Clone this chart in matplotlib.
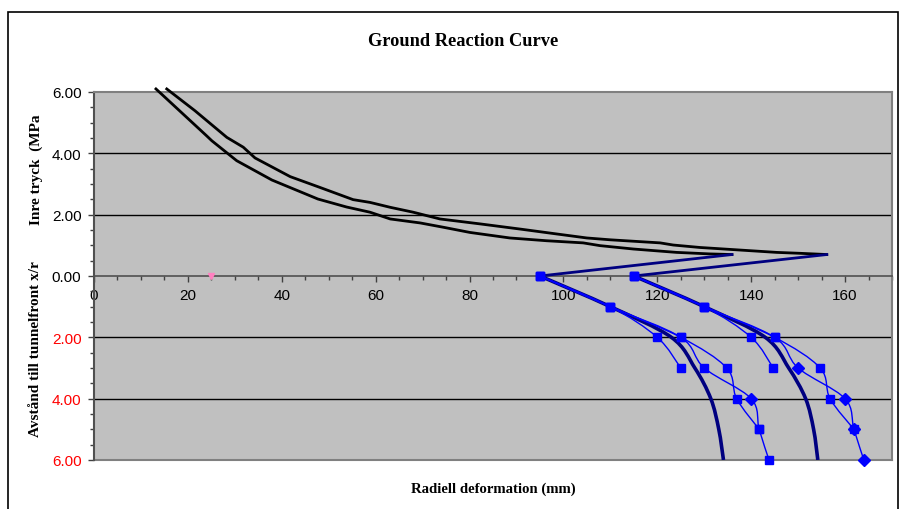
import matplotlib
matplotlib.use('Agg')
import matplotlib.pyplot as plt
from matplotlib.path import Path
from matplotlib.patches import PathPatch, Rectangle
from matplotlib.ticker import MultipleLocator

# ---------------- data ----------------
grc1_x = [13.2, 24.0, 25.1, 30.4, 37.9, 47.7, 53.8, 58.8, 63.1, 69.5, 74.4, 80.1,
          88.6, 96.4, 104.2, 107.8, 114.9, 124.1, 131.2, 135.9]
grc1_y = [6.10, 4.57, 4.41, 3.76, 3.13, 2.51, 2.25, 2.08, 1.86, 1.73, 1.59, 1.42,
          1.24, 1.15, 1.08, 0.99, 0.88, 0.77, 0.72, 0.70]

grc2_x = [15.5, 21.5, 28.3, 31.8, 34.3, 41.8, 48.1, 55.2, 58.8, 63.1, 68.0, 73.7,
          82.2, 90.8, 98.6, 105.0, 110.0, 120.6, 123.4, 129.1, 145.4, 150.4, 156.1]
grc2_y = [6.10, 5.39, 4.52, 4.20, 3.85, 3.24, 2.89, 2.49, 2.40, 2.24, 2.08, 1.86,
          1.70, 1.53, 1.37, 1.24, 1.18, 1.08, 1.01, 0.93, 0.77, 0.74, 0.70]

link1_x = [135.9, 95.0]
link1_y = [0.70, 0.0]
link2_x = [156.1, 115.0]
link2_y = [0.70, 0.0]

ldp1_x = [95.0, 110.0, 123.0, 128.0, 131.4, 133.1, 134.1]
ldp1_y = [0, -1, -2, -3, -4, -5, -6]
ldp2_x = [115.0, 130.0, 143.0, 148.0, 151.6, 153.3, 154.2]
ldp2_y = [0, -1, -2, -3, -4, -5, -6]

sA_x = [95, 110, 120, 125]
sA_y = [0, -1, -2, -3]
sA_m = ['s', 's', 's', 's']

sB_x = [95, 110, 125, 130, 140, 141.7, 143.8]
sB_y = [0, -1, -2, -3, -4, -5, -6]
sB_m = ['s', 's', 's', 's', 'D', 's', 's']

sC_x = [95, 110, 125, 134.8, 136.9, 141.7]
sC_y = [0, -1, -2, -3, -4, -5]
sC_m = ['s', 's', 's', 's', 's', 's']

sD_x = [115, 130, 140, 144.7]
sD_y = [0, -1, -2, -3]
sD_m = ['s', 's', 's', 's']

sE_x = [115, 130, 145, 150, 160, 161.9, 164]
sE_y = [0, -1, -2, -3, -4, -5, -6]
sE_m = ['s', 's', 's', 'D', 'D', 'D', 'D']

sF_x = [115, 130, 145, 154.7, 156.8, 161.9]
sF_y = [0, -1, -2, -3, -4, -5]
sF_m = ['s', 's', 's', 's', 's', 's']

pink_x = [25]
pink_y = [0]

yticks = [-6, -4, -2, 0, 2, 4, 6]
xticks = [0, 20, 40, 60, 80, 100, 120, 140, 160]
grid_y = [-4, -2, 2, 4]

title = "Ground Reaction Curve"
xlabel = "Radiell deformation (mm)"
ylabel_top = "Inre tryck  (MPa"
ylabel_bottom = "Avstånd till tunnelfront x/r"

# ---------------- helpers ----------------
def smooth_path(xs, ys):
    pts = list(zip(xs, ys))
    n = len(pts)
    verts = [pts[0]]
    codes = [Path.MOVETO]
    for i in range(n - 1):
        p0 = pts[i - 1] if i > 0 else pts[i]
        p1 = pts[i]
        p2 = pts[i + 1]
        p3 = pts[i + 2] if i + 2 < n else pts[i + 1]
        c1 = (p1[0] + (p2[0] - p0[0]) / 6.0, p1[1] + (p2[1] - p0[1]) / 6.0)
        c2 = (p2[0] - (p3[0] - p1[0]) / 6.0, p2[1] - (p3[1] - p1[1]) / 6.0)
        verts += [c1, c2, p2]
        codes += [Path.CURVE4] * 3
    return Path(verts, codes)

# ---------------- figure ----------------
W, H = 906, 510
fig = plt.figure(figsize=(W / 100, H / 100), dpi=100)
fig.patch.set_facecolor('white')

ax = fig.add_axes([94 / W, 1 - 461 / H, (892 - 94) / W, (461 - 93) / H])
ax.set_facecolor('#C0C0C0')
ax.set_xlim(0, 170)
ax.set_ylim(-6, 6)

for y in grid_y:
    ax.axhline(y, color='black', lw=1.0, zorder=1)
ax.axhline(-6, color='#808080', lw=1.5, zorder=1, clip_on=False)

# black GRC curves
ax.plot(grc1_x, grc1_y, color='black', lw=2.0, zorder=3, clip_on=False,
        solid_joinstyle='round')
ax.plot(grc2_x, grc2_y, color='black', lw=2.0, zorder=3, clip_on=False,
        solid_joinstyle='round')

# navy links and LDP curves
ax.plot(link1_x, link1_y, color='#000080', lw=2.0, zorder=3)
ax.plot(link2_x, link2_y, color='#000080', lw=2.0, zorder=3)
for xs, ys in [(ldp1_x, ldp1_y), (ldp2_x, ldp2_y)]:
    ax.add_patch(PathPatch(smooth_path(xs, ys), fill=False, edgecolor='#000080',
                           lw=2.6, zorder=3, capstyle='butt'))

# blue smoothed series with markers
series = [(sA_x, sA_y, sA_m), (sB_x, sB_y, sB_m), (sC_x, sC_y, sC_m),
          (sD_x, sD_y, sD_m), (sE_x, sE_y, sE_m), (sF_x, sF_y, sF_m)]
for xs, ys, ms in series:
    ax.add_patch(PathPatch(smooth_path(xs, ys), fill=False, edgecolor='#0000FF',
                           lw=1.0, zorder=4))
for xs, ys, ms in series:
    for x, y, m in zip(xs, ys, ms):
        ax.plot([x], [y], linestyle='none', marker=m, color='#0000FF',
                markersize=5.6 if m == 's' else 6.0, zorder=5, clip_on=False)

ax.plot(pink_x, pink_y, linestyle='none', marker='v', color='#FF80C0',
        markersize=4, zorder=6, clip_on=False)

# spines / axes
ax.spines['bottom'].set_position(('data', 0))
ax.spines['bottom'].set_color('#505050')
ax.spines['bottom'].set_linewidth(1.2)
ax.spines['left'].set_color('#505050')
ax.spines['left'].set_linewidth(1.5)
for s in ['top', 'right']:
    ax.spines[s].set_color('#808080')
    ax.spines[s].set_linewidth(1.5)

ax.set_xticks(xticks)
ax.set_xticklabels([str(v) for v in xticks])
ax.xaxis.set_minor_locator(MultipleLocator(5))
ax.set_yticks(yticks)
ax.set_yticklabels([f"{abs(v):.2f}" for v in yticks])
ax.yaxis.set_minor_locator(MultipleLocator(0.5))
for lbl, v in zip(ax.get_yticklabels(), yticks):
    lbl.set_color('#FF0000' if v < 0 else 'black')

for lbl in ax.get_xticklabels() + ax.get_yticklabels():
    lbl.set_fontfamily(['Liberation Sans', 'DejaVu Sans'])
    lbl.set_fontsize(11)

ax.tick_params(axis='x', which='major', direction='out', length=4, width=1,
               color='#404040', pad=5)
ax.tick_params(axis='x', which='minor', direction='out', length=3, width=1,
               color='#404040')
ax.tick_params(axis='y', which='major', direction='out', length=4, width=1,
               color='#404040', pad=5)
ax.tick_params(axis='y', which='minor', direction='out', length=3, width=1,
               color='#404040')

serif = ['Liberation Serif', 'DejaVu Serif']
fig.text(463 / W, 1 - 42 / H, title, ha='center', va='center',
         fontsize=13.2, fontweight='bold', family=serif)
fig.text(493 / W, 1 - 489 / H, xlabel, ha='center', va='center',
         fontsize=10.6, fontweight='bold', family=serif)
fig.text(36 / W, 1 - 170 / H, ylabel_top, ha='center', va='center', rotation=90,
         fontsize=11, fontweight='bold', family=serif)
fig.text(36 / W, 1 - 349 / H, ylabel_bottom, ha='center', va='center', rotation=90,
         fontsize=11, fontweight='bold', family=serif)

# outer frame
fig.add_artist(Rectangle((8 / W, -0.05), (898 - 8) / W, 1 - 13 / H + 0.05,
                         transform=fig.transFigure, fill=False,
                         edgecolor='black', lw=1.2))

fig.savefig('out.png', dpi=100)
